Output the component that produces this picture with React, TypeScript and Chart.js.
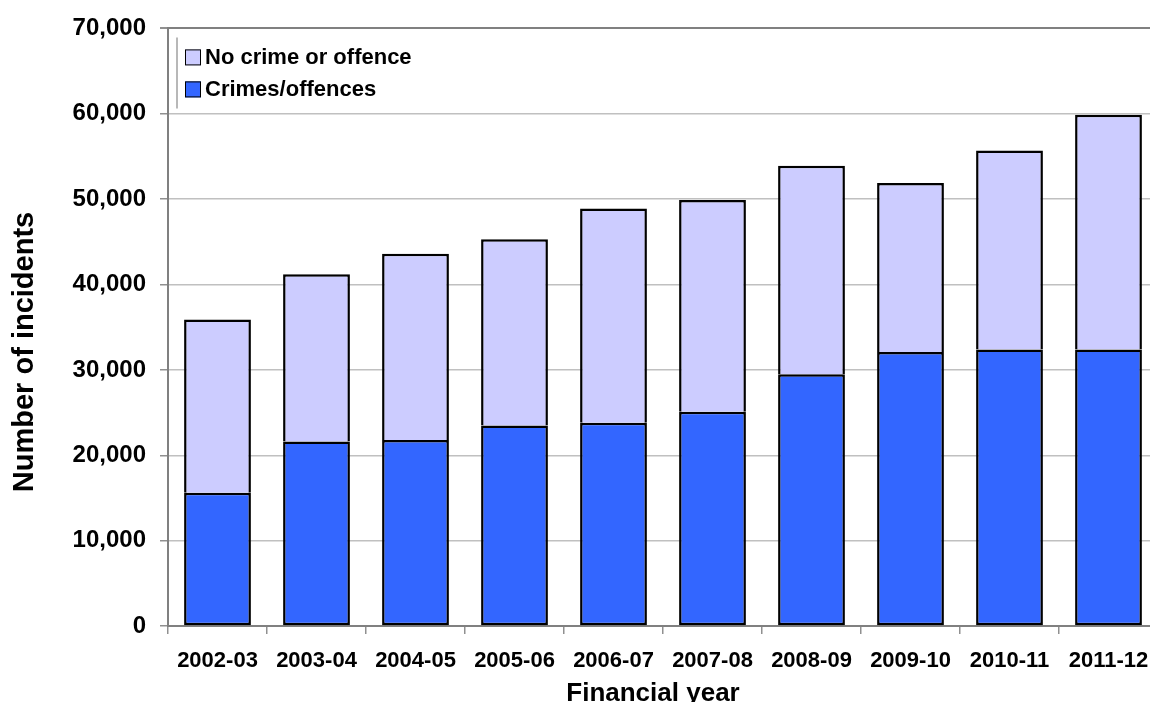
import React, { useEffect, useRef } from "react";
import { Chart, registerables } from "chart.js";

Chart.register(...registerables);

const categories = [
  "2002-03", "2003-04", "2004-05", "2005-06", "2006-07",
  "2007-08", "2008-09", "2009-10", "2010-11", "2011-12",
];
const crimesOffences = [15600, 21600, 21800, 23500, 23800, 25100, 29500, 32100, 32400, 32400];
const noCrimeOrOffence = [20300, 19600, 21800, 21800, 25100, 24800, 24400, 19800, 23300, 27500];
const yTicks = [0, 10000, 20000, 30000, 40000, 50000, 60000, 70000];

const FONT = "'Liberation Sans', Arial, sans-serif";
const LIGHT = "#CCCCFF";
const BLUE = "#3366FF";

// Legend box and axis titles drawn straight onto the canvas
const overlayPlugin = {
  id: "overlay",
  afterDraw(chart: any) {
    const ctx = chart.ctx as CanvasRenderingContext2D;
    const area = chart.chartArea;
    ctx.save();

    // legend
    const lx = area.left + 9;
    ctx.strokeStyle = "#A0A0A0";
    ctx.lineWidth = 1.5;
    ctx.beginPath();
    ctx.moveTo(lx, area.top + 9);
    ctx.lineTo(lx, area.top + 80);
    ctx.stroke();

    const items = [
      { label: "No crime or offence", color: LIGHT, y: area.top + 29 },
      { label: "Crimes/offences", color: BLUE, y: area.top + 61 },
    ];
    ctx.font = `bold 22px ${FONT}`;
    ctx.textBaseline = "middle";
    ctx.textAlign = "left";
    for (const it of items) {
      ctx.fillStyle = it.color;
      ctx.fillRect(lx + 8, it.y - 8, 16, 16);
      ctx.strokeStyle = "#000";
      ctx.lineWidth = 1;
      ctx.strokeRect(lx + 8.5, it.y - 7.5, 15, 15);
      ctx.fillStyle = "#000";
      ctx.fillText(it.label, lx + 28, it.y + 1);
    }

    // y-axis title
    ctx.save();
    ctx.translate(25, 352);
    ctx.rotate(-Math.PI / 2);
    ctx.font = `bold 29px ${FONT}`;
    ctx.textAlign = "center";
    ctx.textBaseline = "middle";
    ctx.fillStyle = "#000";
    ctx.fillText("Number of incidents", 0, 0);
    ctx.restore();

    // x-axis title
    ctx.font = `bold 26px ${FONT}`;
    ctx.textAlign = "center";
    ctx.textBaseline = "alphabetic";
    ctx.fillStyle = "#000";
    ctx.fillText("Financial year", 653, 701);

    ctx.restore();
  },
};

export default function App() {
  const canvasRef = useRef<HTMLCanvasElement | null>(null);

  useEffect(() => {
    document.body.style.margin = "0";
    document.body.style.overflow = "hidden";
    const canvas = canvasRef.current;
    if (!canvas) return;

    const barStyle = {
      borderColor: "#000",
      borderWidth: 2.5,
      barPercentage: 0.675,
      categoryPercentage: 1,
    };

    const chart = new Chart(canvas, {
      type: "bar",
      data: {
        labels: categories,
        datasets: [
          {
            label: "Crimes/offences",
            data: crimesOffences,
            backgroundColor: BLUE,
            borderSkipped: false,
            ...barStyle,
          },
          {
            label: "No crime or offence",
            data: noCrimeOrOffence,
            backgroundColor: LIGHT,
            borderSkipped: "bottom",
            ...barStyle,
          },
        ],
      },
      options: {
        responsive: false,
        animation: false,
        layout: { padding: { top: 28, right: 12, left: 0, bottom: 0 } },
        plugins: {
          legend: { display: false },
          tooltip: { enabled: false },
          title: { display: false },
        },
        scales: {
          x: {
            stacked: true,
            offset: true,
            grid: {
              offset: true,
              drawOnChartArea: false,
              drawTicks: true,
              tickLength: 8,
              tickColor: "#909090",
              lineWidth: 1.5,
            },
            border: { display: true, color: "#808080", width: 2 },
            ticks: {
              color: "#000",
              padding: 14,
              maxRotation: 0,
              autoSkip: false,
              font: { family: FONT, size: 22, weight: "bold" },
            },
            afterFit(scale: any) {
              scale.height = 76;
            },
          },
          y: {
            stacked: true,
            min: 0,
            max: 70000,
            afterBuildTicks(scale: any) {
              scale.ticks = yTicks.map((v) => ({ value: v }));
            },
            grid: {
              color: (c: any) => (c.tick && c.tick.value === 70000 ? "#808080" : "#C0C0C0"),
              lineWidth: (c: any) => (c.tick && c.tick.value === 70000 ? 2 : 1.5),
              tickLength: 8,
              tickColor: "#909090",
            },
            border: { display: true, color: "#808080", width: 2 },
            ticks: {
              color: "#000",
              padding: 14,
              font: { family: FONT, size: 24, weight: "bold" },
              callback: (v: any) => Number(v).toLocaleString("en-US"),
            },
            afterFit(scale: any) {
              scale.width = 168;
            },
          },
        },
      },
      plugins: [overlayPlugin],
    });

    return () => chart.destroy();
  }, []);

  return (
    <div style={{ position: "fixed", left: 0, top: 0, width: 1170, height: 702 }}>
      <canvas ref={canvasRef} width={1170} height={702} />
    </div>
  );
}
